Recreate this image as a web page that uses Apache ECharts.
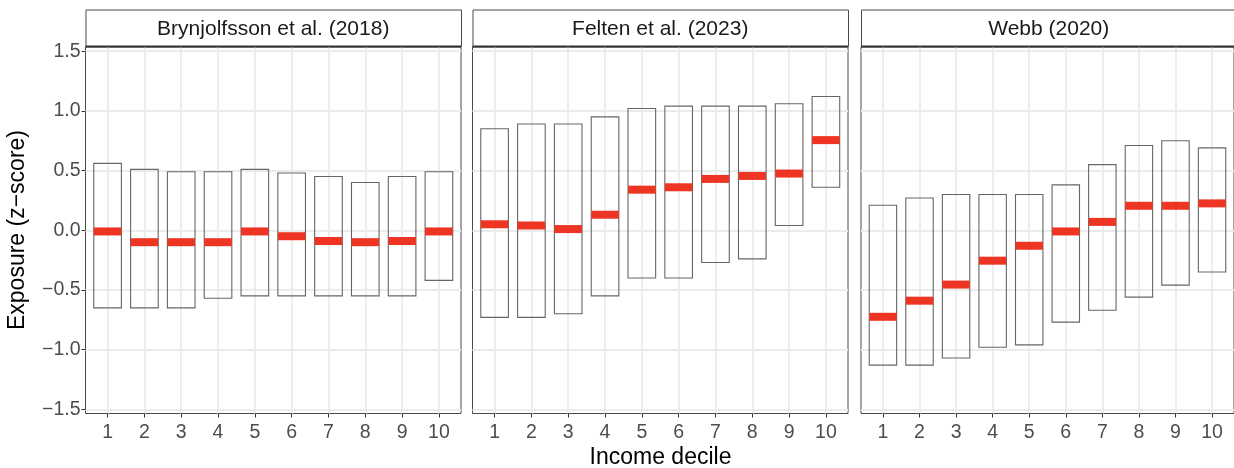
<!DOCTYPE html>
<html>
<head>
<meta charset="utf-8">
<script src="https://cdn.jsdelivr.net/npm/echarts@6/dist/echarts.min.js"></script>
<style>
  html, body { margin: 0; padding: 0; background: #ffffff; }
  #chart { width: 1234px; height: 468px; }
</style>
</head>
<body>
<div id="chart"></div>
<script>
// Income deciles on the x axis of every panel
const deciles = [1, 2, 3, 4, 5, 6, 7, 8, 9, 10];
const yTicks = [-1.5, -1.0, -0.5, 0.0, 0.5, 1.0, 1.5];

// Panel titles (one facet per exposure measure)
const panelTitles = ['Brynjolfsson et al. (2018)', 'Felten et al. (2023)', 'Webb (2020)'];

// Brynjolfsson et al. (2018): lower bound, upper bound, median exposure per decile
const brynLow  = [-0.65, -0.65, -0.65, -0.57, -0.55, -0.55, -0.55, -0.55, -0.55, -0.42];
const brynHigh = [0.56, 0.51, 0.49, 0.49, 0.51, 0.48, 0.45, 0.40, 0.45, 0.49];
const brynMid  = [-0.01, -0.10, -0.10, -0.10, -0.01, -0.05, -0.09, -0.10, -0.09, -0.01];

// Felten et al. (2023)
const feltLow  = [-0.73, -0.73, -0.70, -0.55, -0.40, -0.40, -0.27, -0.24, 0.04, 0.36];
const feltHigh = [0.85, 0.89, 0.89, 0.95, 1.02, 1.04, 1.04, 1.04, 1.06, 1.12];
const feltMid  = [0.05, 0.04, 0.01, 0.13, 0.34, 0.36, 0.43, 0.455, 0.475, 0.755];

// Webb (2020)
const webbLow  = [-1.13, -1.13, -1.07, -0.98, -0.96, -0.77, -0.67, -0.56, -0.46, -0.35];
const webbHigh = [0.21, 0.27, 0.30, 0.30, 0.30, 0.38, 0.55, 0.71, 0.75, 0.69];
const webbMid  = [-0.725, -0.59, -0.455, -0.255, -0.13, -0.01, 0.07, 0.205, 0.205, 0.225];

const panels = [
  { low: brynLow, high: brynHigh, mid: brynMid },
  { low: feltLow, high: feltHigh, mid: feltMid },
  { low: webbLow, high: webbHigh, mid: webbMid }
];

const FONT = '"Liberation Sans", Arial, Helvetica, sans-serif';
const BOX_HALF = 0.375;   // half box width in decile units
const MED_H = 8;          // median bar thickness in px
const RED = '#ee3423';

const gridLeft = [85.5, 472.5, 861];
const gridWidth = 375.5;
const gridTop = 47;
const gridHeight = 366.5;

const grids = [], xAxes = [], yAxes = [], series = [], graphics = [];

panels.forEach((p, i) => {
  grids.push({
    left: gridLeft[i], top: gridTop, width: gridWidth, height: gridHeight,
    show: true, borderColor: '#4a4a4a', borderWidth: 1, backgroundColor: 'transparent',
    containLabel: false
  });
  xAxes.push({
    type: 'value', gridIndex: i, min: 0.4, max: 10.6, position: 'bottom',
    axisLine: { show: false, onZero: false },
    axisTick: { show: true, length: 4, lineStyle: { color: '#333333', width: 1 }, customValues: deciles },
    axisLabel: { show: true, customValues: deciles, margin: 9, color: '#4d4d4d', fontSize: 19.5, fontFamily: FONT },
    splitLine: { show: true, lineStyle: { color: '#ebebeb', width: 1.8 } }
  });
  yAxes.push({
    type: 'value', gridIndex: i, min: -1.535, max: 1.535, position: 'left',
    axisLine: { show: false, onZero: false },
    axisTick: { show: i === 0, length: 4, lineStyle: { color: '#333333', width: 1 }, customValues: yTicks },
    axisLabel: {
      show: i === 0, customValues: yTicks, margin: 5, color: '#4d4d4d', fontSize: 19.5, fontFamily: FONT,
      formatter: v => (v < 0 ? '\u2212' : '') + Math.abs(v).toFixed(1)
    },
    splitLine: { show: true, lineStyle: { color: '#ebebeb', width: 1.8 } }
  });
  const data = deciles.map((d, k) => [d, p.low[k], p.high[k], p.mid[k]]);
  series.push({
    type: 'custom', xAxisIndex: i, yAxisIndex: i, data: data, clip: false,
    renderItem: (params, api) => {
      const x = api.value(0);
      const a = api.coord([x - BOX_HALF, api.value(1)]);
      const b = api.coord([x + BOX_HALF, api.value(2)]);
      const m = api.coord([x, api.value(3)]);
      const w = b[0] - a[0];
      return {
        type: 'group',
        children: [
          { type: 'rect', shape: { x: a[0], y: b[1], width: w, height: a[1] - b[1] },
            style: { fill: 'none', stroke: '#666666', lineWidth: 1.1 } },
          { type: 'rect', shape: { x: a[0], y: m[1] - MED_H / 2, width: w, height: MED_H },
            style: { fill: RED } }
        ]
      };
    }
  });
  // facet strip with title
  graphics.push({
    type: 'rect', left: gridLeft[i], top: 9.5,
    shape: { x: 0, y: 0, width: gridWidth, height: 36.5 },
    style: { fill: '#ffffff', stroke: '#4a4a4a', lineWidth: 1 }, z: 10
  });
  graphics.push({
    type: 'rect', left: gridLeft[i], top: 45.5,
    shape: { x: 0, y: 0, width: gridWidth, height: 2 },
    style: { fill: '#333333' }, z: 11
  });
  graphics.push({
    type: 'text', x: gridLeft[i] + gridWidth / 2, y: 29, z: 12,
    style: { text: panelTitles[i], fill: '#1a1a1a', font: '21px ' + FONT, textAlign: 'center', textVerticalAlign: 'middle' }
  });
});

// shared axis titles
graphics.push({
  type: 'text', x: 660.5, y: 458, z: 12,
  style: { text: 'Income decile', fill: '#000000', font: '23px ' + FONT, textAlign: 'center', textVerticalAlign: 'middle' }
});
graphics.push({
  type: 'text', x: 18, y: 230, rotation: Math.PI / 2, z: 12,
  style: { text: 'Exposure (z\u2212score)', fill: '#000000', font: '23px ' + FONT, textAlign: 'center', textVerticalAlign: 'middle' }
});

const chart = echarts.init(document.getElementById('chart'), null, { renderer: 'canvas' });
chart.setOption({
  animation: false,
  backgroundColor: '#ffffff',
  grid: grids,
  xAxis: xAxes,
  yAxis: yAxes,
  series: series,
  graphic: graphics
});
</script>
</body>
</html>
